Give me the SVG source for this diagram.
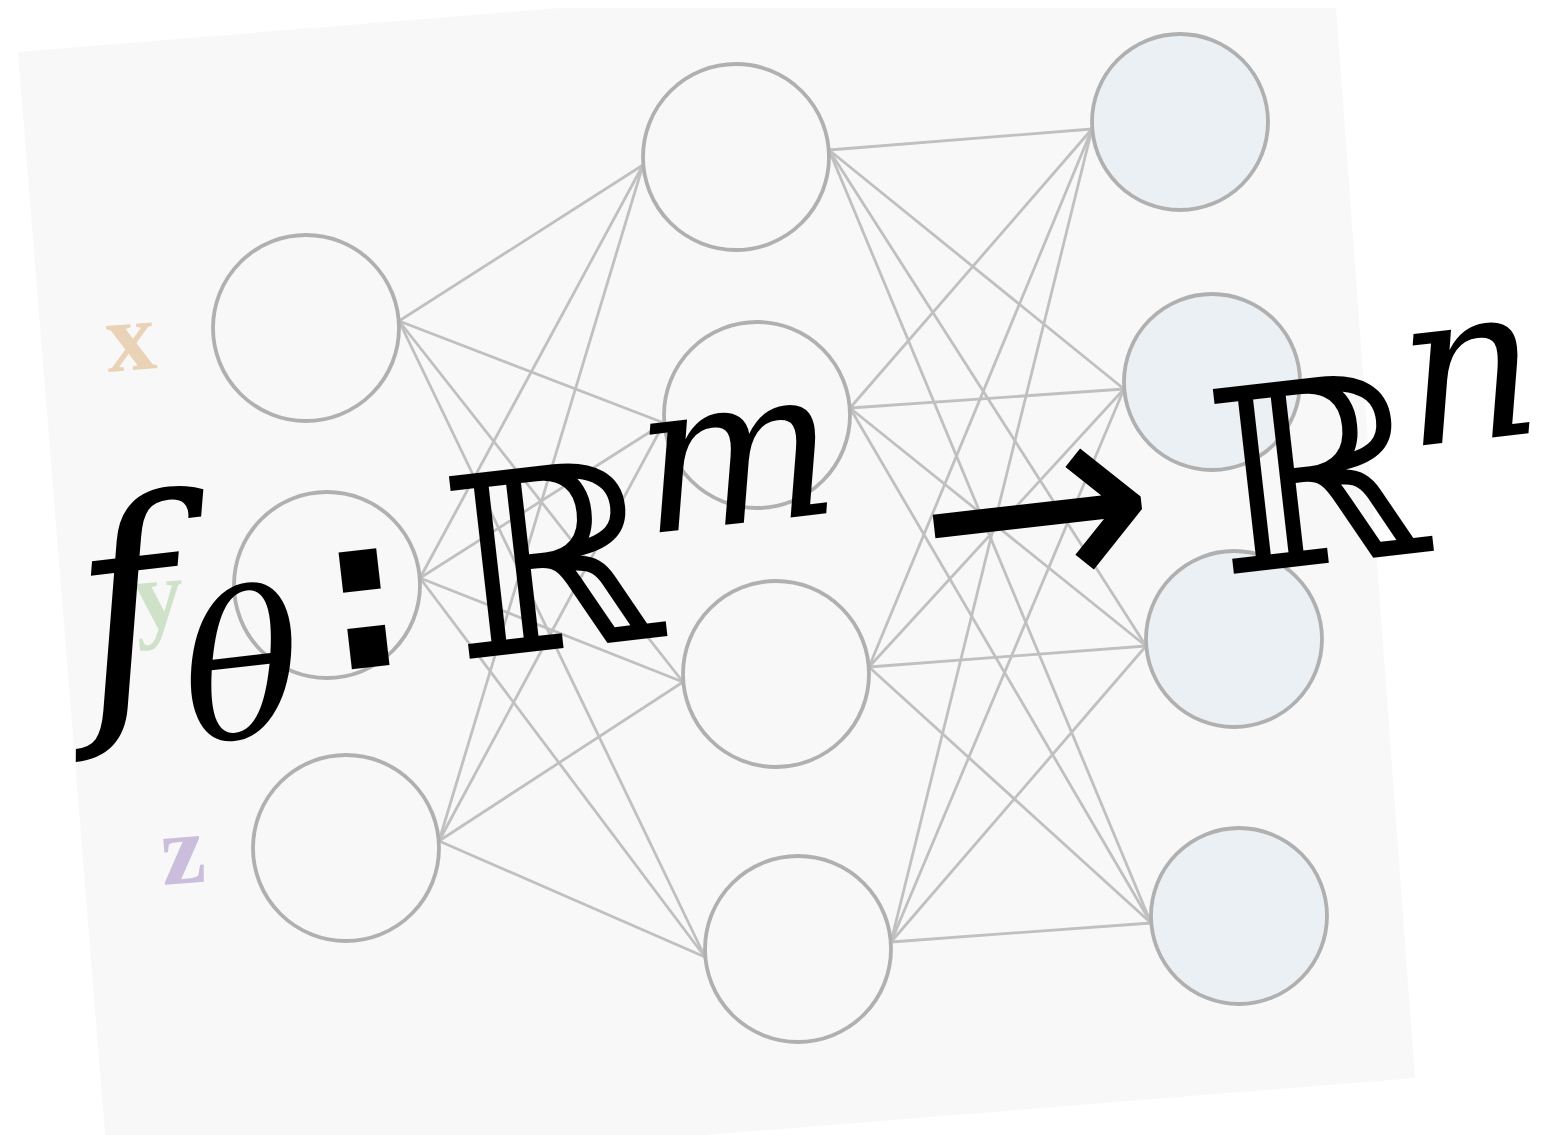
<svg xmlns="http://www.w3.org/2000/svg" width="1558" height="1135" viewBox="0 0 1558 1135">
  <style>
    .node { fill: #f8f8f8; stroke: #b0b0b0; stroke-width: 3.8; }
    .out { fill: #ebf0f4; stroke: #b0b0b0; stroke-width: 3.8; }
    .edge { stroke: #c0c0c0; stroke-width: 2.8; fill: none; }
    .lbl { font-family: "Liberation Serif", "DejaVu Serif", serif; font-weight: bold; font-size: 100px; }
    .it { font-family: "DejaVu Serif", "Liberation Serif", serif; font-style: italic; fill: #000; }
    .bb { font-family: "DejaVu Serif", "DejaVu Sans", serif; fill: #000; }
    .ar { font-family: "DejaVu Sans", "Liberation Sans", sans-serif; fill: #000; }
    .co { font-family: "DejaVu Sans", "Liberation Sans", sans-serif; font-weight: bold; fill: #000; }
  </style>
  <rect x="0" y="0" width="1558" height="1135" fill="#ffffff"/>
  <polygon id="background" points="18,52 560,8 1336,8 1415,1078 109,1183" fill="#f8f8f8"/>

  <g id="connectors">
    <!-- input -> hidden -->
    <line class="edge" x1="399" y1="321" x2="643" y2="165"/>
    <line class="edge" x1="399" y1="321" x2="664" y2="423"/>
    <line class="edge" x1="399" y1="321" x2="683" y2="682"/>
    <line class="edge" x1="399" y1="321" x2="705" y2="957"/>
    <line class="edge" x1="420" y1="578" x2="643" y2="165"/>
    <line class="edge" x1="420" y1="578" x2="664" y2="423"/>
    <line class="edge" x1="420" y1="578" x2="683" y2="682"/>
    <line class="edge" x1="420" y1="578" x2="705" y2="957"/>
    <line class="edge" x1="439" y1="841" x2="643" y2="165"/>
    <line class="edge" x1="439" y1="841" x2="664" y2="423"/>
    <line class="edge" x1="439" y1="841" x2="683" y2="682"/>
    <line class="edge" x1="439" y1="841" x2="705" y2="957"/>
    <!-- hidden -> output -->
    <line class="edge" x1="829" y1="150" x2="1092" y2="129"/>
    <line class="edge" x1="829" y1="150" x2="1124" y2="389"/>
    <line class="edge" x1="829" y1="150" x2="1146" y2="646"/>
    <line class="edge" x1="829" y1="150" x2="1151" y2="923"/>
    <line class="edge" x1="850" y1="408" x2="1092" y2="129"/>
    <line class="edge" x1="850" y1="408" x2="1124" y2="389"/>
    <line class="edge" x1="850" y1="408" x2="1146" y2="646"/>
    <line class="edge" x1="850" y1="408" x2="1151" y2="923"/>
    <line class="edge" x1="869" y1="667" x2="1092" y2="129"/>
    <line class="edge" x1="869" y1="667" x2="1124" y2="389"/>
    <line class="edge" x1="869" y1="667" x2="1146" y2="646"/>
    <line class="edge" x1="869" y1="667" x2="1151" y2="923"/>
    <line class="edge" x1="891" y1="942" x2="1092" y2="129"/>
    <line class="edge" x1="891" y1="942" x2="1124" y2="389"/>
    <line class="edge" x1="891" y1="942" x2="1146" y2="646"/>
    <line class="edge" x1="891" y1="942" x2="1151" y2="923"/>
  </g>

  <g id="input-x"><circle class="node" cx="306" cy="328" r="93"/></g>
  <g id="input-y"><circle class="node" cx="327" cy="585" r="93"/></g>
  <g id="input-z"><circle class="node" cx="346" cy="848" r="93"/></g>
  <g id="hidden-1"><circle class="node" cx="736" cy="157" r="93"/></g>
  <g id="hidden-2"><circle class="node" cx="757" cy="415" r="93"/></g>
  <g id="hidden-3"><circle class="node" cx="776" cy="674" r="93"/></g>
  <g id="hidden-4"><circle class="node" cx="798" cy="949" r="93"/></g>
  <g id="output-1"><circle class="out" cx="1180" cy="122" r="88"/></g>
  <g id="output-2"><circle class="out" cx="1212" cy="382" r="88"/></g>
  <g id="output-3"><circle class="out" cx="1234" cy="639" r="88"/></g>
  <g id="output-4"><circle class="out" cx="1239" cy="916" r="88"/></g>

  <g id="labels">
    <text class="lbl" x="108" y="372" fill="#ead2b6" transform="rotate(-4.6 108 372)">x</text>
    <text class="lbl" x="136" y="630" fill="#cfe2c9" transform="rotate(-4.6 136 630)">y</text>
    <text class="lbl" x="163" y="885" fill="#cbbddc" transform="rotate(-4.6 163 885)">z</text>
  </g>

  <g id="formula">
    <text class="it" x="86" y="704" font-size="272" transform="rotate(-6.5 86 704)">f</text>
    <text class="it" x="190" y="744" font-size="200" transform="rotate(-6.5 190 744)">θ</text>
    <text class="co" x="328" y="672" font-size="215" transform="rotate(-6.5 328 672)">:</text>
    <text class="bb" x="458" y="660" font-size="252" transform="rotate(-6.5 458 660)">ℝ</text>
    <text class="it" x="645" y="534" font-size="210" transform="rotate(-6.5 645 534)">m</text>
    <text class="ar" x="928" y="617" font-size="285" transform="rotate(-6.5 928 617)">→</text>
    <text class="bb" x="1222" y="575" font-size="255" transform="rotate(-6.5 1222 575)">ℝ</text>
    <text class="it" x="1408" y="447" font-size="215" transform="rotate(-6.5 1408 447)">n</text>
  </g>
</svg>
